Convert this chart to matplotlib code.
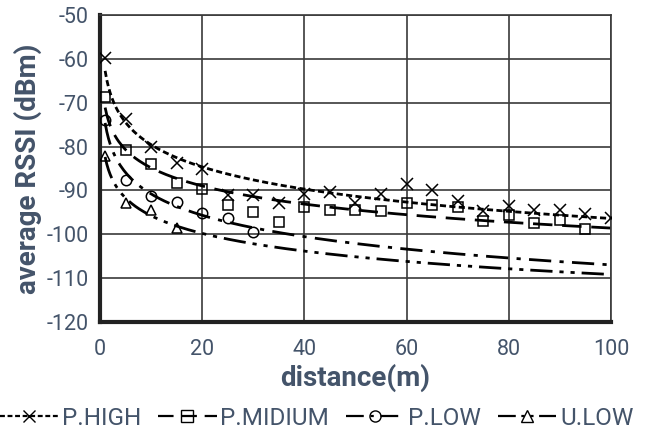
import numpy as np
import matplotlib
matplotlib.use("Agg")
import matplotlib.pyplot as plt
from matplotlib.lines import Line2D

plt.rcParams['font.family'] = ['Roboto', 'DejaVu Sans']
plt.rcParams['axes.unicode_minus'] = False

# measured average RSSI per distance
dist_high = [1, 5, 10, 15, 20, 25, 30, 35, 40, 45, 50, 55, 60, 65, 70, 75, 80, 85, 90, 95, 100]
rssi_high = [-59.7, -73.7, -80.2, -83.7, -85.1, -91.1, -91.1, -92.9, -90.8, -90.4, -92.8,
             -90.8, -88.6, -90.0, -92.4, -94.7, -93.6, -94.5, -94.5, -95.3, -96.4]

dist_mid = [1, 5, 10, 15, 20, 25, 30, 35, 40, 45, 50, 55, 60, 65, 70, 75, 80, 85, 90, 95]
rssi_mid = [-68.6, -80.8, -84.0, -88.2, -89.7, -93.3, -94.9, -97.2, -93.8, -94.4, -94.5,
            -94.6, -92.8, -93.4, -93.8, -96.9, -95.6, -97.4, -96.7, -98.8]

dist_low = [1, 5, 10, 15, 20, 25, 30]
rssi_low = [-73.9, -87.6, -91.2, -92.7, -95.2, -96.3, -99.5]

dist_ulow = [1, 5, 10, 15]
rssi_ulow = [-82.1, -92.9, -94.4, -98.6]

labels = ["P.HIGH", "P.MIDIUM", "P.LOW", "U.LOW"]
markers = ["x", "s", "o", "^"]
styles = [(0, (2.2, 1.2)), (0, (7, 3.5)), (0, (8, 3, 1.5, 3)), (0, (8, 2.5, 1.5, 2.5, 1.5, 2.5))]
series = [(dist_high, rssi_high), (dist_mid, rssi_mid), (dist_low, rssi_low), (dist_ulow, rssi_ulow)]

text_col = "#44546A"

fig = plt.figure(figsize=(6.52, 4.37), dpi=100)
ax = fig.add_axes([0.1534, 0.2632, 0.7836, 0.7025])

xx = np.linspace(1, 100, 300)
handles = []
for (d, r), lab, mk, ls in zip(series, labels, markers, styles):
    d = np.array(d, dtype=float)
    r = np.array(r, dtype=float)
    ax.plot(d, r, linestyle="none", marker=mk, markersize=8.5 if mk == "x" else 7.5,
            markerfacecolor="none", markeredgecolor="black", markeredgewidth=1.1, zorder=3)
    # logarithmic trendline
    k, c = np.polyfit(np.log(d), r, 1)
    ax.plot(xx, k * np.log(xx) + c, color="black", linestyle=ls, linewidth=2.0, zorder=2)
    handles.append(Line2D([], [], color="black", linestyle=ls, linewidth=1.6, marker=mk,
                          markersize=8, markerfacecolor="none", markeredgecolor="black",
                          markeredgewidth=1.0))

ax.set_xlim(0, 100)
ax.set_ylim(-120, -50)
ax.set_xticks(np.arange(0, 101, 20))
ax.set_yticks(np.arange(-120, -49, 10))
ax.grid(True, color="#3a3a3a", linewidth=1.2)
ax.set_axisbelow(True)
for side in ["top", "right"]:
    ax.spines[side].set_color("#3a3a3a")
    ax.spines[side].set_linewidth(1.2)
for side in ["left", "bottom"]:
    ax.spines[side].set_color("#222222")
    ax.spines[side].set_linewidth(3.0)
ax.tick_params(length=0, labelsize=15.5, labelcolor=text_col)
ax.tick_params(axis="x", pad=12)
ax.tick_params(axis="y", pad=8)

ax.set_xlabel("distance(m)", fontsize=20, fontweight="bold", color=text_col, labelpad=3)
ax.set_ylabel("average RSSI (dBm)", fontsize=20, fontweight="bold", color=text_col, labelpad=3)

fig.legend(handles, labels, loc="center left", bbox_to_anchor=(0.0, 0.043), ncol=4,
           frameon=False, fontsize=17.5, labelcolor=text_col, handlelength=2.4,
           handletextpad=0.15, columnspacing=0.7, borderaxespad=0, borderpad=0)

fig.savefig("out.png", dpi=100)
